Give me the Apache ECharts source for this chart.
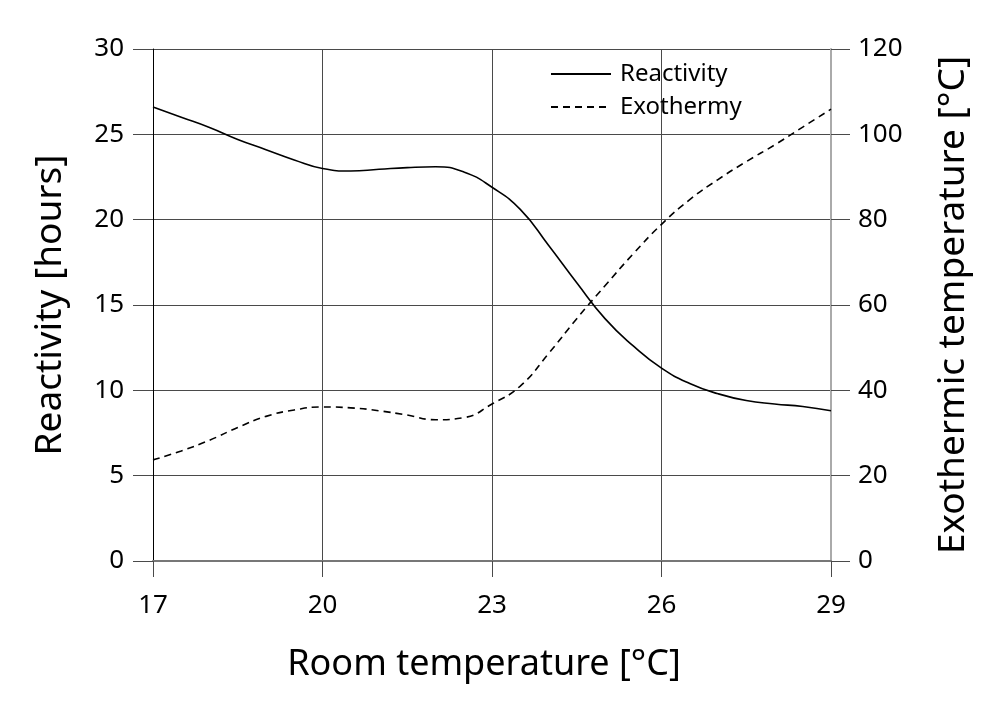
<!DOCTYPE html>
<html>
<head>
<meta charset="utf-8">
<script src="https://cdn.jsdelivr.net/npm/echarts@6/dist/echarts.min.js"></script>
<style>
  html, body { margin: 0; padding: 0; background: #fff; }
  #chart { width: 1000px; height: 712px; }
</style>
</head>
<body>
<div id="chart"></div>
<script>
// room temperature [°C]
var temps = [17, 17.5, 18, 18.5, 19, 19.5, 20, 20.5, 21, 21.5, 22, 22.5, 23, 23.5, 24, 24.5, 25, 25.5, 26, 26.5, 27, 27.5, 28, 28.5, 29];
// reactivity [hours] (left axis)
var reactivity = [26.6, 26.0, 25.4, 24.7, 24.1, 23.5, 23.0, 22.85, 22.95, 23.05, 23.1, 22.8, 21.9, 20.6, 18.5, 16.3, 14.2, 12.6, 11.3, 10.4, 9.8, 9.4, 9.2, 9.05, 8.8];
// exothermic temperature [°C] (right axis)
var exothermy = [23.7, 25.8, 28.3, 31.3, 33.9, 35.4, 36.1, 35.9, 35.2, 34.2, 33.1, 33.6, 36.8, 41.0, 48.6, 56.8, 64.5, 72.0, 78.9, 84.7, 89.4, 93.6, 97.5, 101.7, 105.9];
var xTicks = [17, 20, 23, 26, 29];

var X0 = xTicks[0]; // axis runs from 0, labels shifted back by X0
var FONT = '"Noto Sans", "Open Sans", sans-serif';
var GRID = '#4a4a4a';

function pairs(xs, ys) {
    var out = [];
    for (var i = 0; i < xs.length; i++) {
        out.push([xs[i] - X0, ys[i]]);
    }
    return out;
}

var myChart = echarts.init(document.getElementById('chart'));
var option = {
    animation: false,
    backgroundColor: '#fff',
    textStyle: { fontFamily: FONT, color: '#000' },
    grid: { left: 153, right: 169, top: 49, bottom: 151, containLabel: false },
    legend: {
        orient: 'vertical',
        left: 545,
        top: 57,
        itemWidth: 60,
        itemHeight: 22,
        itemGap: 9,
        selectedMode: false,
        itemStyle: { opacity: 0 },
        textStyle: { fontFamily: FONT, fontSize: 24, color: '#000', padding: [0, 0, 0, 4] },
        data: ['Reactivity', 'Exothermy']
    },
    xAxis: {
        type: 'value',
        min: 0,
        max: xTicks[xTicks.length - 1] - X0,
        interval: xTicks[1] - xTicks[0],
        name: 'Room temperature [°C]',
        nameLocation: 'middle',
        nameGap: 86,
        nameTextStyle: { fontFamily: FONT, fontSize: 36, color: '#000', padding: [0, 16, 0, 0] },
        axisLine: { show: true, lineStyle: { color: '#777', width: 2 } },
        axisTick: { show: true, inside: false, length: 16, lineStyle: { color: GRID, width: 1 } },
        axisLabel: {
            margin: 32, fontFamily: FONT, fontSize: 26, color: '#000',
            formatter: function (v) { return v + X0; }
        },
        splitLine: { show: true, lineStyle: { color: GRID, width: 1 } }
    },
    yAxis: [
        {
            type: 'value',
            min: 0,
            max: 30,
            interval: 5,
            position: 'left',
            name: 'Reactivity [hours]',
            nameLocation: 'middle',
            nameGap: 84,
            nameRotate: 90,
            nameTextStyle: { fontFamily: FONT, fontSize: 37, color: '#000' },
            axisLine: { show: true, lineStyle: { color: '#000', width: 1 } },
            axisTick: { show: true, length: 20, lineStyle: { color: GRID, width: 1 } },
            axisLabel: { margin: 29, fontFamily: FONT, fontSize: 26, color: '#000' },
            splitLine: { show: true, lineStyle: { color: GRID, width: 1 } }
        },
        {
            type: 'value',
            min: 0,
            max: 120,
            interval: 20,
            position: 'right',
            name: 'Exothermic temperature [°C]',
            nameLocation: 'middle',
            nameGap: 104,
            nameRotate: 90,
            nameTextStyle: { fontFamily: FONT, fontSize: 37, color: '#000', verticalAlign: 'top' },
            axisLine: { show: true, lineStyle: { color: '#aaa', width: 2 } },
            axisTick: { show: true, length: 19, lineStyle: { color: GRID, width: 1 } },
            axisLabel: { margin: 27, fontFamily: FONT, fontSize: 26, color: '#000' },
            splitLine: { show: false }
        }
    ],
    series: [
        {
            name: 'Reactivity',
            type: 'line',
            yAxisIndex: 0,
            smooth: 0.5,
            symbol: 'none',
            lineStyle: { color: '#000', width: 1.6, type: 'solid' },
            itemStyle: { color: '#000' },
            data: pairs(temps, reactivity)
        },
        {
            name: 'Exothermy',
            type: 'line',
            yAxisIndex: 1,
            smooth: 0.5,
            symbol: 'none',
            lineStyle: { color: '#000', width: 1.6, type: [7, 5] },
            itemStyle: { color: '#000' },
            data: pairs(temps, exothermy)
        }
    ]
};
myChart.setOption(option);
</script>
</body>
</html>
